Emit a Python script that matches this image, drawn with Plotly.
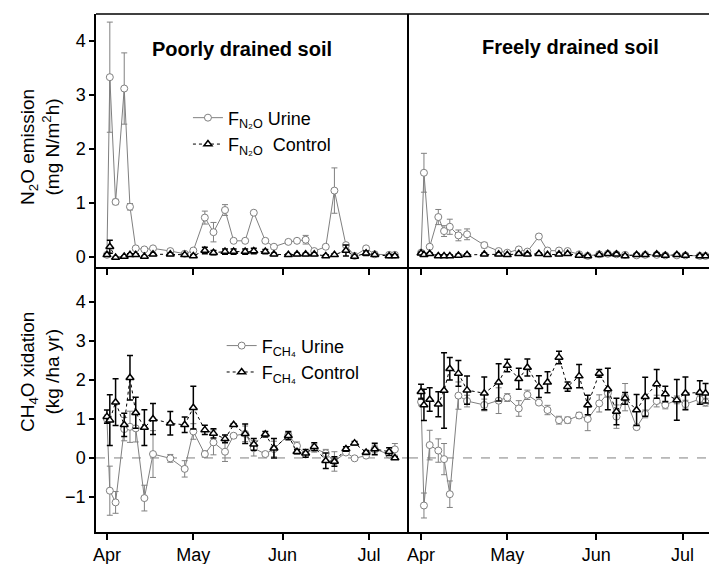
import plotly.graph_objects as go

# ---------------- data ----------------
month_ticks = [0, 30, 61, 91]
month_labels = ["Apr", "May", "Jun", "Jul"]

days_poor = [0, 1, 3, 6, 8, 10, 13, 16, 22, 27, 30, 34, 37, 41, 44, 48, 51, 55, 58,
             63, 66, 69, 72, 76, 79, 83, 86, 90, 93, 98, 100]
days_free = [0, 1, 3, 6, 8, 10, 13, 16, 22, 27, 30, 34, 37, 41, 44, 48, 51, 55, 58,
             62, 65, 68, 71, 75, 78, 82, 85, 89, 92, 97, 99]

# N2O emission, poorly drained
n2o_poor_urine = [0.04, 3.33, 1.02, 3.12, 0.93, 0.16, 0.14, 0.16, 0.11, 0.06, 0.12, 0.73, 0.46,
                  0.87, 0.30, 0.30, 0.82, 0.30, 0.19, 0.28, 0.30, 0.32, 0.11, 0.19, 1.23, 0.22,
                  0.02, 0.16, 0.05, 0.04, 0.04]
n2o_poor_urine_err = [0.02, 1.02, 0.05, 0.66, 0.06, 0.03, 0.03, 0.03, 0.02, 0.02, 0.02, 0.12, 0.18,
                      0.10, 0.03, 0.03, 0.03, 0.03, 0.02, 0.03, 0.04, 0.08, 0.02, 0.03, 0.42, 0.03,
                      0.02, 0.03, 0.02, 0.01, 0.01]
n2o_poor_ctrl = [0.04, 0.19, -0.01, 0.01, 0.04, 0.04, 0.01, 0.05, 0.05, 0.04, 0.02, 0.12, 0.08,
                 0.10, 0.10, 0.10, 0.11, 0.10, 0.05, 0.04, 0.05, 0.05, 0.05, 0.02, 0.04, 0.12,
                 0.01, 0.07, 0.04, 0.02, 0.02]
n2o_poor_ctrl_err = [0.02, 0.12, 0.01, 0.01, 0.02, 0.02, 0.01, 0.02, 0.02, 0.02, 0.02, 0.06, 0.04,
                     0.05, 0.05, 0.05, 0.05, 0.04, 0.02, 0.02, 0.02, 0.02, 0.02, 0.02, 0.02, 0.10,
                     0.02, 0.04, 0.02, 0.02, 0.02]

# N2O emission, freely drained
n2o_free_urine = [0.08, 1.56, 0.19, 0.74, 0.48, 0.56, 0.40, 0.42, 0.22, 0.11, 0.08, 0.14, 0.10,
                  0.38, 0.12, 0.12, 0.11, 0.05, 0.02, 0.05, 0.06, 0.05, 0.04, 0.03, 0.04, 0.04,
                  0.03, 0.03, 0.03, 0.02, 0.02]
n2o_free_urine_err = [0.02, 0.36, 0.03, 0.14, 0.10, 0.14, 0.10, 0.10, 0.05, 0.02, 0.02, 0.02, 0.02,
                      0.04, 0.02, 0.02, 0.02, 0.01, 0.01, 0.01, 0.01, 0.01, 0.01, 0.01, 0.01, 0.01,
                      0.01, 0.01, 0.01, 0.01, 0.01]
n2o_free_ctrl = [0.07, 0.04, 0.06, 0.02, 0.02, 0.02, 0.03, 0.04, 0.05, 0.05, 0.04, 0.06, 0.05,
                 0.06, 0.04, 0.05, 0.06, 0.03, 0.02, 0.04, 0.06, 0.05, 0.02, 0.04, 0.04, 0.05,
                 0.03, 0.04, 0.03, 0.02, 0.02]
n2o_free_ctrl_err = [0.02] * 31

# CH4 oxidation, poorly drained
ch4_poor_urine = [1.00, -0.84, -1.14, 0.74, 0.80, 0.76, -1.03, 0.10, -0.01, -0.28, 0.68, 0.10, 0.40,
                  0.16, 0.57, 0.62, 0.25, 0.10, 0.23, 0.59, 0.31, 0.09, 0.25, 0.12, -0.09, 0.14,
                  -0.01, 0.06, 0.23, 0.09, 0.22]
ch4_poor_urine_err = [0.10, 0.63, 0.28, 0.30, 0.40, 0.35, 0.33, 0.60, 0.10, 0.21, 0.20, 0.08, 0.32,
                      0.25, 0.05, 0.20, 0.20, 0.05, 0.20, 0.10, 0.10, 0.08, 0.10, 0.10, 0.25, 0.05,
                      0.03, 0.05, 0.10, 0.08, 0.15]
ch4_poor_ctrl = [1.06, 0.97, 1.43, 0.85, 2.06, 1.16, 0.78, 1.00, 0.89, 0.85, 1.29, 0.72, 0.63,
                 0.49, 0.85, 0.62, 0.35, 0.61, 0.25, 0.57, 0.16, 0.12, 0.29, -0.07, -0.09, 0.23,
                 0.38, 0.14, 0.23, 0.16, 0.00]
ch4_poor_ctrl_err = [0.17, 0.65, 0.60, 0.30, 0.57, 0.40, 0.46, 0.40, 0.30, 0.20, 0.55, 0.12, 0.12,
                     0.10, 0.03, 0.25, 0.15, 0.07, 0.25, 0.10, 0.05, 0.10, 0.10, 0.20, 0.12, 0.06,
                     0.04, 0.05, 0.15, 0.10, 0.03]

# CH4 oxidation, freely drained
ch4_free_urine = [1.44, -1.22, 0.33, 0.19, -0.03, -0.93, 1.60, 1.46, 1.36, 1.47, 1.55, 1.27, 1.62,
                  1.42, 1.23, 0.97, 0.97, 1.09, 1.00, 1.40, 1.66, 1.06, 1.56, 0.79, 1.13, 1.46,
                  1.36, 1.49, 1.38, 1.51, 1.43]
ch4_free_urine_err = [0.10, 0.32, 0.38, 0.30, 0.40, 0.34, 0.35, 0.15, 0.15, 0.33, 0.10, 0.20, 0.12,
                      0.05, 0.12, 0.10, 0.08, 0.08, 0.30, 0.22, 0.10, 0.30, 0.35, 0.05, 0.10, 0.15,
                      0.10, 0.10, 0.10, 0.10, 0.10]
ch4_free_ctrl = [1.70, 1.36, 1.50, 1.38, 1.73, 2.29, 2.17, 1.74, 1.66, 1.94, 2.37, 2.03, 2.32,
                 1.83, 1.94, 2.58, 1.83, 2.10, 1.36, 2.17, 1.77, 1.19, 1.53, 1.23, 1.57, 1.90,
                 1.64, 1.49, 1.66, 1.68, 1.66]
ch4_free_ctrl_err = [0.19, 0.40, 0.30, 0.32, 0.97, 0.29, 0.33, 0.36, 0.42, 0.48, 0.16, 0.27, 0.22,
                     0.28, 0.27, 0.16, 0.12, 0.30, 0.25, 0.10, 0.53, 0.34, 0.15, 0.40, 0.50, 0.37,
                     0.20, 0.52, 0.42, 0.30, 0.25]

# ---------------- styling ----------------
FONT = "Arial, Liberation Sans, sans-serif"
GRAY = "#808080"

fig = go.Figure()


def urine(x, y, e, xa, ya, name=None, legend=None):
    fig.add_trace(go.Scatter(
        x=x, y=y, xaxis=xa, yaxis=ya, mode="lines+markers", name=name or "",
        showlegend=name is not None, legend=legend or "legend",
        line=dict(color=GRAY, width=1),
        marker=dict(symbol="circle", size=7, color="white", line=dict(color=GRAY, width=1)),
        error_y=dict(type="data", array=e, visible=True, color=GRAY, thickness=1, width=3),
    ))


def ctrl(x, y, e, xa, ya, name=None, legend=None):
    fig.add_trace(go.Scatter(
        x=x, y=y, xaxis=xa, yaxis=ya, mode="lines+markers", name=name or "",
        showlegend=name is not None, legend=legend or "legend",
        line=dict(color="black", width=1, dash="dot"),
        marker=dict(symbol="triangle-up", size=7, color="white", line=dict(color="black", width=1.5)),
        error_y=dict(type="data", array=e, visible=True, color="black", thickness=1.5, width=3),
    ))


urine(days_poor, n2o_poor_urine, n2o_poor_urine_err, "x", "y",
      "F<sub>N₂O</sub> Urine", "legend")
ctrl(days_poor, n2o_poor_ctrl, n2o_poor_ctrl_err, "x", "y",
     "F<sub>N₂O</sub>  Control", "legend")
urine(days_free, n2o_free_urine, n2o_free_urine_err, "x2", "y2")
ctrl(days_free, n2o_free_ctrl, n2o_free_ctrl_err, "x2", "y2")
urine(days_poor, ch4_poor_urine, ch4_poor_urine_err, "x3", "y3",
      "F<sub>CH₄</sub> Urine", "legend2")
ctrl(days_poor, ch4_poor_ctrl, ch4_poor_ctrl_err, "x3", "y3",
     "F<sub>CH₄</sub> Control", "legend2")
urine(days_free, ch4_free_urine, ch4_free_urine_err, "x4", "y4")
ctrl(days_free, ch4_free_ctrl, ch4_free_ctrl_err, "x4", "y4")

XSPLIT = 0.5106
YSPLIT = 0.5116
left_range = [-3.8, 104.9]
right_range = [-4.2, 100.2]

LW = 1.5
axis_line = dict(showline=True, linecolor="black", linewidth=LW, showgrid=False, zeroline=False)
tickfont = dict(family=FONT, size=18, color="black")


def xax(domain, anchor, rng, labels):
    return dict(domain=domain, anchor=anchor, range=rng, tickmode="array",
                tickvals=month_ticks, ticktext=month_labels, ticks="outside", ticklen=6,
                tickwidth=LW, tickcolor="black", showticklabels=labels, tickfont=tickfont,
                **axis_line)


def yax(domain, anchor, rng, vals, labels):
    d = dict(domain=domain, anchor=anchor, range=rng, **axis_line)
    if labels:
        d.update(tickmode="array", tickvals=vals, ticks="outside", ticklen=5, tickwidth=LW,
                 tickcolor="black", tickfont=tickfont)
    else:
        d.update(showticklabels=False, ticks="")
    return d


def ann(text, px, py, size, angle=0):
    return dict(text=text, xref="paper", yref="paper", x=(px - 96) / 613, y=(532 - py) / 518,
                xanchor="center", yanchor="middle", showarrow=False, textangle=angle,
                font=dict(family=FONT, size=size, color="black"))


fig.update_layout(
    width=709, height=564,
    margin=dict(l=96, r=0, t=14, b=32),
    paper_bgcolor="white", plot_bgcolor="white",
    font=dict(family=FONT, color="black"),
    xaxis=xax([0, XSPLIT], "y", left_range, False),
    yaxis=yax([YSPLIT, 1], "x", [-0.185, 4.5], [0, 1, 2, 3, 4], True),
    xaxis2=xax([XSPLIT, 1], "y2", right_range, False),
    yaxis2=yax([YSPLIT, 1], "x2", [-0.185, 4.5], [], False),
    xaxis3=xax([0, XSPLIT], "y3", left_range, True),
    yaxis3=yax([0, YSPLIT], "x3", [-1.9, 4.9], [-1, 0, 1, 2, 3, 4], True),
    xaxis4=xax([XSPLIT, 1], "y4", right_range, True),
    yaxis4=yax([0, YSPLIT], "x4", [-1.9, 4.9], [], False),
    legend=dict(x=0.150, y=0.835, xanchor="left", yanchor="top", bgcolor="rgba(0,0,0,0)",
                font=dict(family=FONT, size=18), tracegroupgap=0, itemwidth=30),
    legend2=dict(x=0.205, y=0.395, xanchor="left", yanchor="top", bgcolor="rgba(0,0,0,0)",
                 font=dict(family=FONT, size=18), tracegroupgap=0, itemwidth=30),
    shapes=[
        dict(type="line", xref="paper", yref="paper", x0=0, x1=1, y0=1, y1=1,
             line=dict(color="black", width=LW)),
        dict(type="line", xref="x3 domain", yref="y3", x0=0, x1=1, y0=0, y1=0,
             line=dict(color=GRAY, width=1, dash="dash"), layer="below"),
        dict(type="line", xref="x4 domain", yref="y4", x0=0, x1=1, y0=0, y1=0,
             line=dict(color=GRAY, width=1, dash="dash"), layer="below"),
    ],
    annotations=[
        ann("<b>Poorly drained soil</b>", 242, 49, 20),
        ann("<b>Freely drained soil</b>", 570, 47, 20),
        ann("N<sub>2</sub>O emission<br>(mg N/m<sup>2</sup>h)", 40, 147, 19, angle=-90),
        ann("CH<sub>4</sub>O xidation<br>(kg /ha yr)", 40, 372, 19, angle=-90),
    ],
)

fig.write_html("out.html", config={"displayModeBar": False},
               post_script="document.body.style.margin='0px';")
